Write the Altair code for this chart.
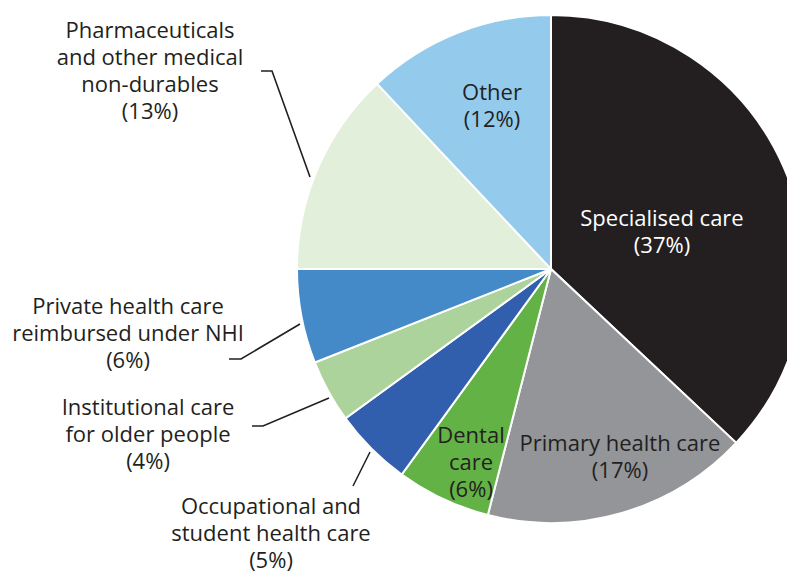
import altair as alt
import pandas as pd

# ---- data ----
categories = [
    "Specialised care",
    "Primary health care",
    "Dental care",
    "Occupational and student health care",
    "Institutional care for older people",
    "Private health care reimbursed under NHI",
    "Pharmaceuticals and other medical non-durables",
    "Other",
]
shares = [37, 17, 6, 5, 4, 6, 13, 12]
colors = ["#231f20", "#939598", "#63b246", "#325fad", "#acd39c", "#448ac8", "#e1efdb", "#94cbed"]

label_text = [
    "Specialised care\n(37%)",
    "Primary health care\n(17%)",
    "Dental\ncare\n(6%)",
    "Occupational and\nstudent health care\n(5%)",
    "Institutional care\nfor older people\n(4%)",
    "Private health care\nreimbursed under NHI\n(6%)",
    "Pharmaceuticals\nand other medical\nnon-durables\n(13%)",
    "Other\n(12%)",
]
label_colors = ["white", "#231f20", "#231f20", "#231f20", "#231f20", "#231f20", "#231f20", "#231f20"]

# ---- layout (page geometry, not data) ----
W, H = 779, 564
CX, CY, R = 543, 261, 254
# (center x, first-line middle y) in view pixels
label_xy = [(654, 211), (612, 436), (463, 428), (263, 499), (140, 400), (120, 299), (142, 23), (484, 85)]
leaders = {
    "Occupational and student health care": [(345, 478), (362, 444)],
    "Institutional care for older people": [(244, 418), (255, 418), (321, 390)],
    "Private health care reimbursed under NHI": [(221, 351), (233, 351), (292, 316)],
    "Pharmaceuticals and other medical non-durables": [(253, 63), (264, 63), (302, 169)],
}

pie_df = pd.DataFrame({"category": categories, "share": shares, "order": list(range(len(categories)))})

lab_df = pd.DataFrame({
    "text": label_text,
    "tcolor": label_colors,
    "x": [p[0] for p in label_xy],
    "y": [p[1] for p in label_xy],
})

rows = []
for k, pts in leaders.items():
    for i, (x, y) in enumerate(pts):
        rows.append({"grp": k, "i": i, "x": x, "y": y})
lead_df = pd.DataFrame(rows)

xs = alt.Scale(domain=[0, W], range=[0, W])
ys = alt.Scale(domain=[0, H], range=[0, H])

pie = alt.Chart(pie_df).mark_arc(outerRadius=R, stroke="white", strokeWidth=2).encode(
    theta=alt.Theta("share:Q", stack=True),
    order=alt.Order("order:Q"),
    color=alt.Color("category:N", scale=alt.Scale(domain=categories, range=colors), legend=None),
    x=alt.value(CX),
    y=alt.value(CY),
)

lines = alt.Chart(lead_df).mark_line(color="#231f20", strokeWidth=1.6).encode(
    x=alt.X("x:Q", scale=xs, axis=None),
    y=alt.Y("y:Q", scale=ys, axis=None),
    detail="grp:N",
    order="i:Q",
)

labels = alt.Chart(lab_df).mark_text(
    font="Open Sans", fontSize=22, lineBreak="\n", lineHeight=27, align="center", baseline="middle"
).encode(
    x=alt.X("x:Q", scale=xs, axis=None),
    y=alt.Y("y:Q", scale=ys, axis=None),
    text="text:N",
    color=alt.Color("tcolor:N", scale=None),
)

chart = alt.layer(pie, lines, labels).properties(
    width=W, height=H, padding=0, autosize=alt.AutoSizeParams(type="none")
).configure_view(stroke=None)

chart.save("out.html", embed_options={"renderer": "svg", "actions": False})
